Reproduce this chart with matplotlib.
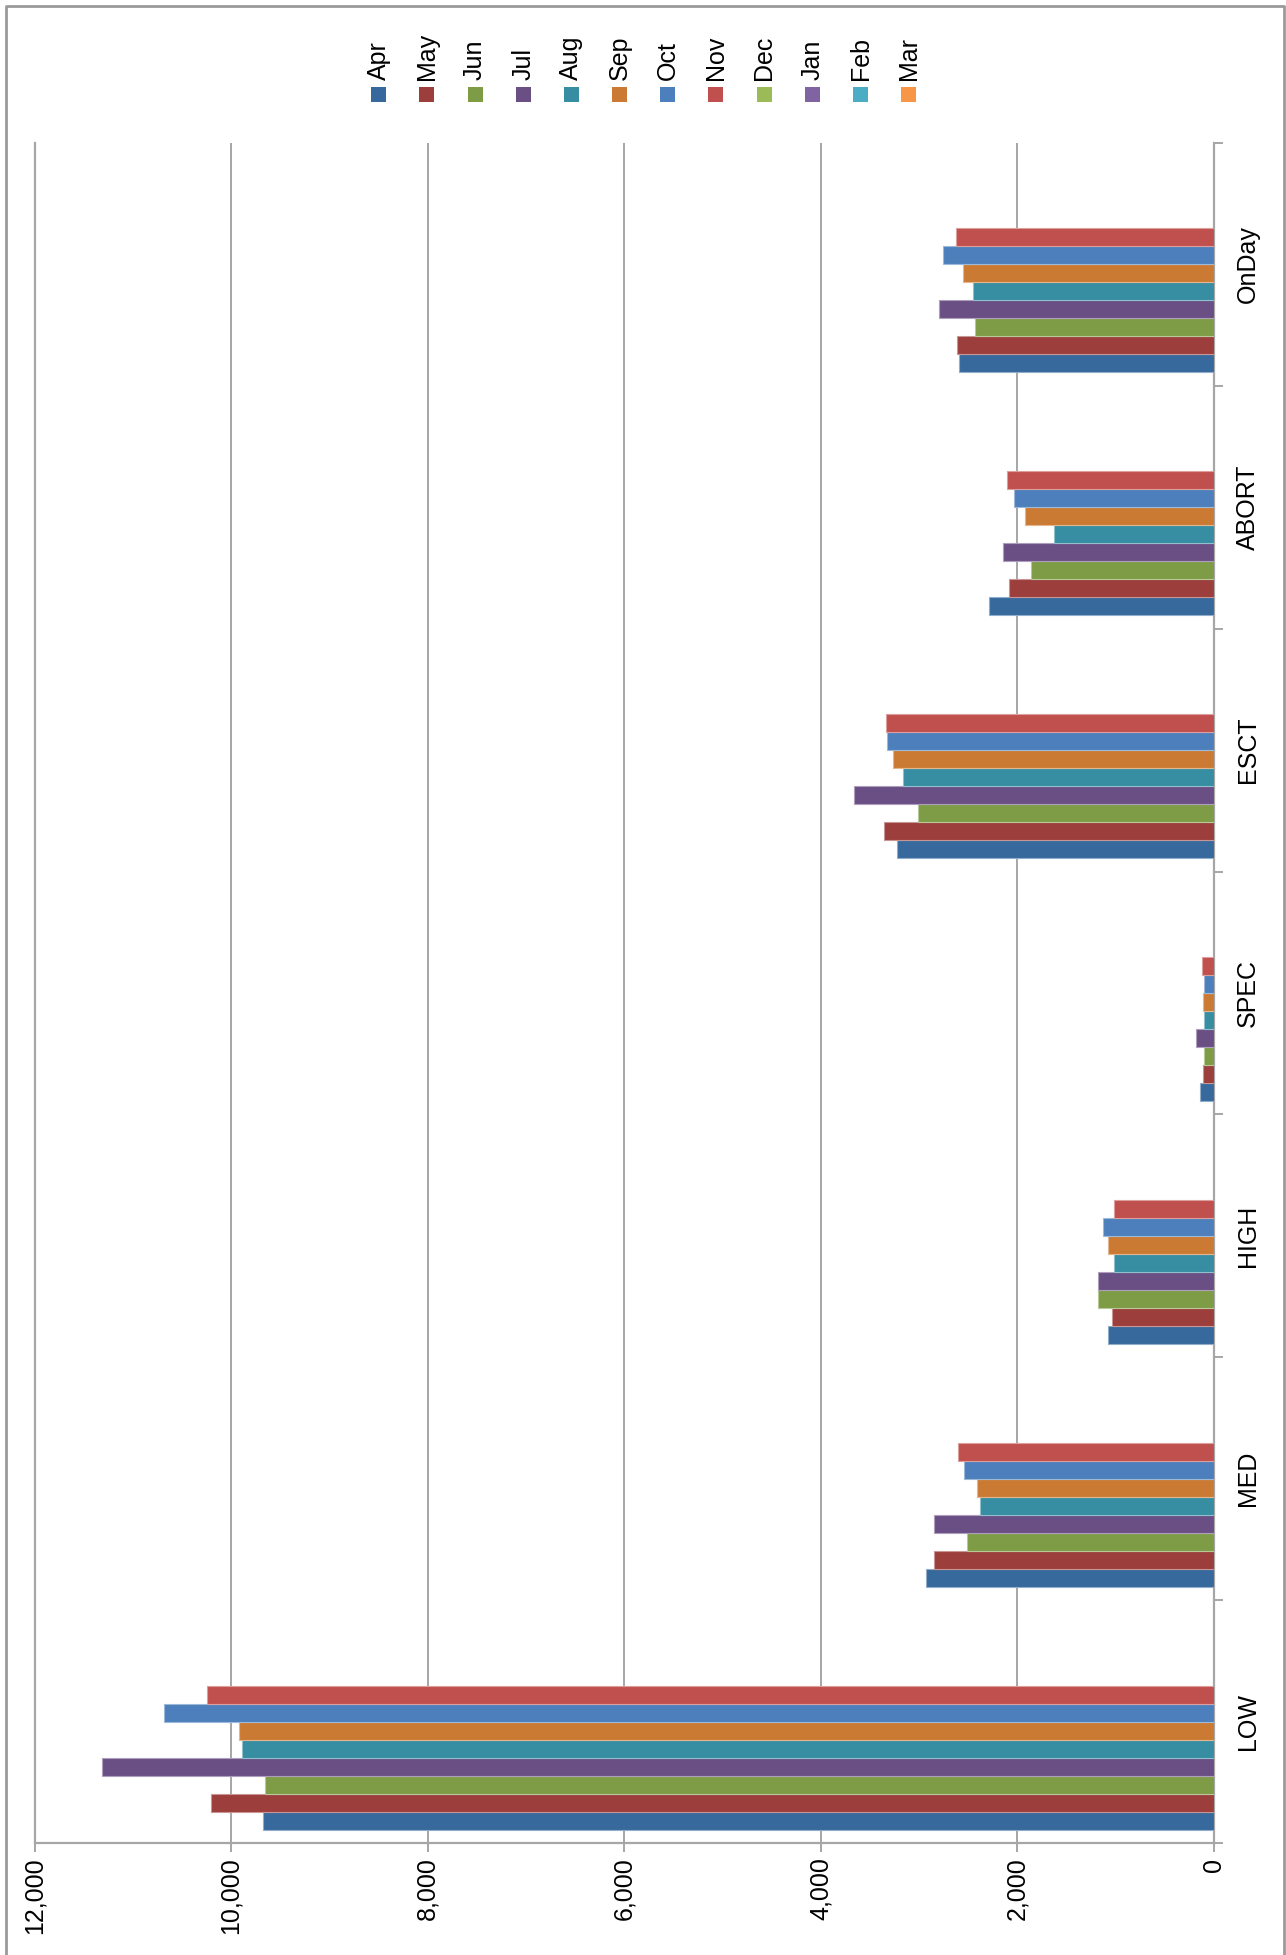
import matplotlib
matplotlib.use('Agg')
import matplotlib.pyplot as plt
import numpy as np
from matplotlib.patches import Rectangle
from matplotlib.lines import Line2D
from matplotlib.colors import to_rgb

plt.rcParams['font.family'] = ['Liberation Sans', 'DejaVu Sans']

categories = ['LOW', 'MED', 'HIGH', 'SPEC', 'ESCT', 'ABORT', 'OnDay']
months = ['Apr', 'May', 'Jun', 'Jul', 'Aug', 'Sep', 'Oct', 'Nov', 'Dec', 'Jan', 'Feb', 'Mar']
colors = ['#37699D', '#9C3E3C', '#7E9B46', '#6A4F85', '#378DA2', '#CB7A33',
          '#4C7FBB', '#C0504D', '#9BBB59', '#8064A2', '#4BACC6', '#F79646']

apr = [9680, 2930, 1080, 140, 3230, 2290, 2590]
may = [10200, 2845, 1040, 116, 3360, 2085, 2610]
jun = [9650, 2510, 1185, 106, 3010, 1860, 2430]
jul = [11310, 2850, 1180, 181, 3660, 2150, 2800]
aug = [9890, 2385, 1020, 102, 3160, 1630, 2455]
sep = [9920, 2410, 1075, 116, 3265, 1925, 2555]
oct_ = [10680, 2540, 1130, 106, 3330, 2030, 2755]
nov = [10240, 2605, 1015, 123, 3340, 2105, 2620]
# Dec..Mar have no data yet (legend only)
series = [apr, may, jun, jul, aug, sep, oct_, nov, None, None, None, None]

W, H = 1286, 1955
fig = plt.figure(figsize=(W / 100, H / 100), dpi=100)
ax = fig.add_axes([34.5 / W, 1 - 1843 / H, (1214 - 34.5) / W, (1843 - 143) / H])

grey = '#A6A6A6'
n = len(months)
slot = (216 / 242.9) / n
ypos = np.arange(len(categories))
for j, vals in enumerate(series):
    if vals is None:
        continue
    c = np.array(to_rgb(colors[j]))
    edge = tuple(c + (1 - c) * 0.45)
    ax.barh(ypos - slot * n / 2 + (j + 0.5) * slot, vals, height=slot,
            color=colors[j], edgecolor=edge, linewidth=0.8, zorder=3)

ax.set_xlim(12000, 0)
ax.set_ylim(-0.5, len(categories) - 0.5)

xt = np.arange(0, 12001, 2000)
ax.set_xticks(xt)
ax.set_xticklabels(['{:,}'.format(v) for v in xt], rotation=90, fontsize=18)
ax.xaxis.grid(True, color=grey, linewidth=1.4, zorder=0)
ax.tick_params(axis='x', direction='out', length=6.5, width=1.4, color=grey, pad=4)

ax.yaxis.tick_right()
ax.set_yticks(ypos)
ax.set_yticklabels(categories, fontsize=18)
ax.set_yticks(np.arange(-0.5, len(categories)), minor=True)
ax.tick_params(axis='y', which='major', length=0, pad=16)
ax.tick_params(axis='y', which='minor', direction='out', length=6.5, width=1.4, color=grey)
plt.setp(ax.get_yticklabels(), rotation=90, va='center', ha='left')

ax.spines['top'].set_visible(False)
for s in ['left', 'right', 'bottom']:
    ax.spines[s].set_color(grey)
    ax.spines[s].set_linewidth(1.6)

# legend: squares with rotated labels above
for j, m in enumerate(months):
    cx = 378.6 + 48.2 * j
    fig.add_artist(Rectangle(((cx - 7.5) / W, 1 - 102 / H), 15 / W, 15 / H,
                             facecolor=colors[j], edgecolor='none', transform=fig.transFigure))
    fig.text(cx / W, 1 - 80 / H, m, rotation=90, ha='center', va='bottom', fontsize=18)

# chart border
fig.add_artist(Line2D([5.5 / W, 5.5 / W, 1284 / W, 1284 / W], [0, 1 - 6 / H, 1 - 6 / H, 0],
                      color='#9A9A9A', linewidth=2, transform=fig.transFigure))

fig.savefig('out.png', dpi=100)
